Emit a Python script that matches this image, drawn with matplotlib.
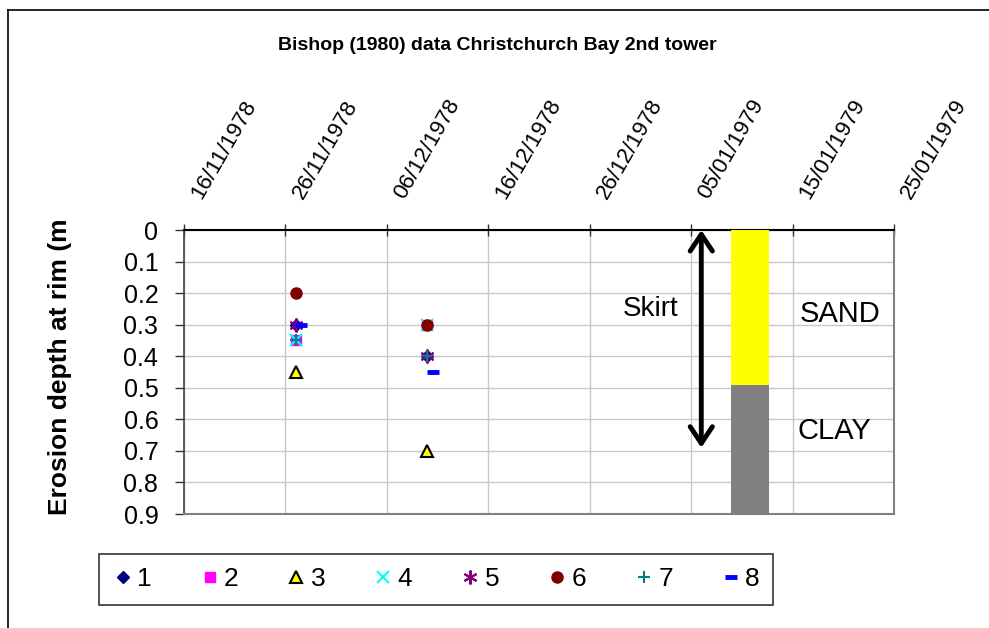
import matplotlib
matplotlib.use("Agg")
import matplotlib.pyplot as plt
import matplotlib.dates as mdates
from matplotlib.lines import Line2D
from matplotlib.transforms import ScaledTranslation
import pandas as pd

plt.rcParams['font.family'] = ['Liberation Sans', 'DejaVu Sans']

# ---- data ----
obs_dates = ['1978-11-27', '1978-12-10']
series_names = ['1', '2', '3', '4', '5', '6', '7', '8']
s1 = [0.30, 0.40]
s2 = [0.35, 0.30]
s3 = [0.45, 0.70]
s4 = [0.35, 0.30]
s5 = [0.30, 0.40]
s6 = [0.20, 0.30]
s7 = [0.35, 0.40]
s8 = [0.30, 0.45]
s8_dates = ['1978-11-27 12:00', '1978-12-10 12:00']

strata_labels = ['SAND', 'CLAY']
strata_top = [0.0, 0.49]
strata_bottom = [0.49, 0.90]
strata_date = '1979-01-10 19:00'
skirt_date = '1979-01-06'
skirt_range = [0.0, 0.69]

x_ticks = pd.date_range('1978-11-16', '1979-01-25', freq='10D')
y_ticks = [0, 0.1, 0.2, 0.3, 0.4, 0.5, 0.6, 0.7, 0.8, 0.9]

# ---- figure ----
W, H = 989, 628
fig = plt.figure(figsize=(W / 100, H / 100), dpi=100)
ax = fig.add_axes([184 / W, 1 - 514 / H, (894 - 184) / W, (514 - 230) / H])

styles = [
    dict(marker='D', color='#000080', ms=6, mec='#000080'),
    dict(marker='s', color='#ff00ff', ms=7, mec='#ff00ff'),
    dict(marker='^', color='#ffff00', ms=8, mec='black', mew=1.5),
    dict(marker='x', color='#00ffff', ms=8, mew=1.5),
    dict(marker=(6, 2, 0), color='#800080', ms=10, mew=1.5),
    dict(marker='o', color='#800000', ms=8, mec='#800000'),
    dict(marker='+', color='#008080', ms=9, mew=1.5),
    dict(marker='_', color='#0000ff', ms=9, mew=3.5),
]
values = [s1, s2, s3, s4, s5, s6, s7, s8]
handles = []
for i, (name, vals, st) in enumerate(zip(series_names, values, styles)):
    d = pd.to_datetime(s8_dates if i == 7 else obs_dates)
    h, = ax.plot(d, vals, linestyle='none', label=name, zorder=5, clip_on=False, **st)
    handles.append(h)

# strata bar
sd = pd.to_datetime(strata_date)
strata_colors = ['#ffff00', '#808080']
for lab, top, bot, c in zip(strata_labels, strata_top, strata_bottom, strata_colors):
    ax.bar(sd, bot - top, bottom=top, width=3.7, color=c, zorder=4, clip_on=False)

# skirt arrow
ad = mdates.date2num(pd.to_datetime(skirt_date))
ax.annotate('', xy=(ad, skirt_range[0]), xytext=(ad, skirt_range[1]),
            arrowprops=dict(arrowstyle='<->,head_length=0.6,head_width=0.4', lw=3.5,
                            mutation_scale=20, color='black', shrinkA=0, shrinkB=0), zorder=6)

ax.text(mdates.date2num(pd.to_datetime('1979-01-01')), 0.25, 'Skirt', fontsize=20,
        ha='center', va='center', zorder=7)
ax.text(mdates.date2num(pd.to_datetime('1979-01-19 16:00')), 0.265, strata_labels[0], fontsize=21,
        ha='center', va='center', zorder=7)
ax.text(mdates.date2num(pd.to_datetime('1979-01-19 03:00')), 0.637, strata_labels[1], fontsize=21,
        ha='center', va='center', zorder=7)

# axes
ax.set_xlim(x_ticks[0], x_ticks[-1])
ax.set_ylim(0.9, 0.0)
ax.set_xticks(x_ticks)
ax.xaxis.tick_top()
ax.tick_params(axis='x', labeltop=False, labelbottom=False)
ax.set_yticks(y_ticks)
ax.set_yticklabels(['0' if v == 0 else f'{v:.1f}' for v in y_ticks])
ax.tick_params(axis='y', direction='out', length=6.5, width=1, labelsize=18, pad=12, color='#333333')
ax.tick_params(axis='x', direction='inout', length=9, width=1, color='#333333')

# rotated date labels on top
off = ScaledTranslation(17 / 100, 30 / 100, fig.dpi_scale_trans)
for d in x_ticks:
    ax.text(mdates.date2num(d), 1.0, d.strftime('%d/%m/%Y'),
            transform=ax.get_xaxis_transform() + off, rotation=60,
            rotation_mode='anchor', ha='left', va='baseline', fontsize=16)

ax.grid(True, color='#c8c8c8', lw=1)
ax.set_axisbelow(True)
ax.spines['top'].set_color('black')
ax.spines['top'].set_linewidth(1.5)
ax.spines['left'].set_color('#404040')
ax.spines['left'].set_linewidth(1.2)
ax.spines['right'].set_color('#808080')
ax.spines['right'].set_linewidth(1.5)
ax.spines['bottom'].set_color('#808080')
ax.spines['bottom'].set_linewidth(1.5)

fig.text(60 / W, 1 - 367 / H, 'Erosion depth at rim (m', rotation=90, fontsize=19,
         fontweight='bold', ha='center', va='center')
fig.text(497 / W, 1 - 46 / H, 'Bishop (1980) data Christchurch Bay 2nd tower', fontsize=14,
         fontweight='bold', ha='center', va='center')

# legend
leg = fig.legend(handles=handles, labels=series_names, ncol=8, loc='center',
                 bbox_to_anchor=(99 / W, 1 - 611 / H, (773 - 99) / W, (611 - 548) / H),
                 mode='expand', fontsize=19, frameon=True, fancybox=False,
                 handletextpad=0.15, handlelength=0.8, borderaxespad=0, columnspacing=1.0,
                 borderpad=0.5)
leg.get_frame().set_edgecolor('black')
leg.get_frame().set_linewidth(1.2)

# outer chart border (left and top visible)
fig.add_artist(Line2D([8 / W, 8 / W], [1 - 10 / H, 0], transform=fig.transFigure, color='black', lw=1.2))
fig.add_artist(Line2D([8 / W, 1], [1 - 10 / H, 1 - 10 / H], transform=fig.transFigure, color='black', lw=1.2))

fig.savefig('out.png', dpi=100)
